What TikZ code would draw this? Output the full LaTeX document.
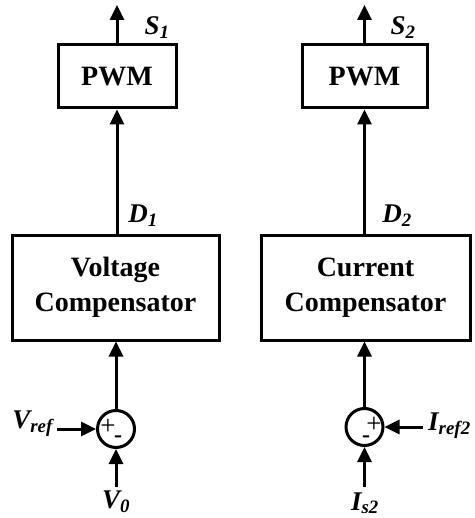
\documentclass[tikz,border=0pt]{standalone}
\usepackage{fontspec}
\setmainfont{Liberation Serif}
\usetikzlibrary{arrows.meta}
\begin{document}
\begin{tikzpicture}[x=1pt,y=-1pt,
  blk/.style={draw, line width=3pt, inner sep=0pt, align=center,
    font=\fontsize{28}{35}\selectfont\bfseries},
  lbl/.style={inner sep=0pt, font=\fontsize{27}{28}\selectfont\bfseries\itshape},
  sgn/.style={inner sep=0pt, font=\fontsize{27}{27}\selectfont},
  sumc/.style={draw, circle, line width=3pt, minimum size=37pt, inner sep=0pt},
  conn/.style={line width=3pt, -{Triangle[length=15pt,width=14pt]}}]
\useasboundingbox (0,0) rectangle (474,518);

% blocks
\node[blk, minimum width=118pt, minimum height=63pt] (pwm1) at (117,76.5) {PWM};
\node[blk, minimum width=125pt, minimum height=63pt] (pwm2) at (364.5,76.5) {PWM};
\node[blk, minimum width=207pt, minimum height=105pt] (comp1) at (115.5,287.5) {Voltage\\Compensator};
\node[blk, minimum width=209pt, minimum height=105pt] (comp2) at (365.5,287.5) {Current\\Compensator};
\node[sumc] (sum1) at (116,429) {};
\node[sumc] (sum2) at (364.5,427) {};

% free ends
\coordinate (s1end) at (117,5);
\coordinate (s2end) at (364.5,5);
\coordinate (vrefin) at (57,429);
\coordinate (v0in) at (116,487);
\coordinate (irefin) at (423,427);
\coordinate (isin) at (364.5,487);

% connectors
\draw[conn] (pwm1.north) -- (s1end);
\draw[conn] (pwm2.north) -- (s2end);
\draw[conn] (comp1.north -| pwm1.south) -- (pwm1.south);
\draw[conn] (comp2.north -| pwm2.south) -- (pwm2.south);
\draw[conn] (sum1.north) -- (sum1.north |- comp1.south);
\draw[conn] (sum2.north) -- (sum2.north |- comp2.south);
\draw[conn] (vrefin) -- (sum1.west);
\draw[conn] (v0in) -- (sum1.south);
\draw[conn] (irefin) -- (sum2.east);
\draw[conn] (isin) -- (sum2.south);

% signs
\node[sgn] (p1) at (108,427) {+};
\node[sgn, font=\fontsize{24}{24}\selectfont\bfseries] (m1) at (118,439) {-};
\node[sgn] (p2) at (374,425) {+};
\node[sgn, font=\fontsize{24}{24}\selectfont\bfseries] (m2) at (366,439) {-};

% labels
\node[lbl] (S1) at (157,28) {S\textsubscript{1}};
\node[lbl] (S2) at (403,28) {S\textsubscript{2}};
\node[lbl] (D1) at (143,216) {D\textsubscript{1}};
\node[lbl] (D2) at (397,216) {D\textsubscript{2}};
\node[lbl, anchor=base east] (Vref) at (53,428) {V\textsubscript{ref}};
\node[lbl, anchor=base] (V0) at (116,508) {V\textsubscript{0}};
\node[lbl, anchor=base west] (Iref) at (428,430) {I\textsubscript{ref2}};
\node[lbl, anchor=base] (Is) at (365,510) {I\textsubscript{s2}};
\end{tikzpicture}
\end{document}
